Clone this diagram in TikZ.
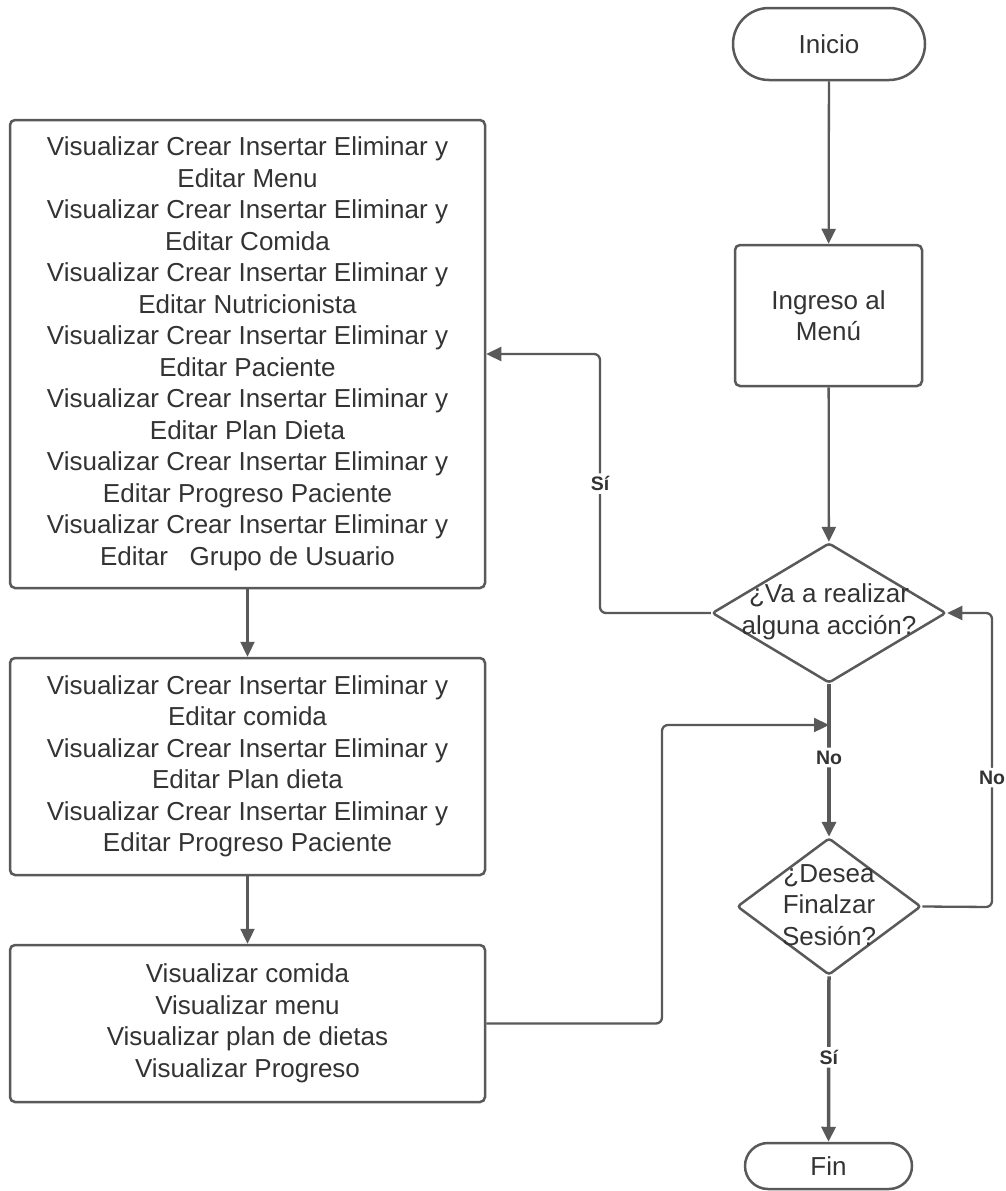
\documentclass[tikz,border=0pt]{standalone}
\usepackage{fontspec}
\setmainfont{Liberation Sans}
\usetikzlibrary{arrows.meta,shapes.geometric}
\definecolor{lc}{HTML}{595959}
\definecolor{tc}{HTML}{333333}
\newcommand{\fsz}{\fontsize{26}{31.5}\selectfont}
\newcommand{\lsz}{\fontsize{19.5}{22}\selectfont\bfseries}
\begin{document}
\begin{tikzpicture}[x=1pt,y=-1pt,
  base/.style={draw=lc, line width=2.5pt, text=tc, font=\fsz, align=center, inner sep=0pt},
  box/.style={base, rectangle, rounded corners=5pt},
  dia/.style={draw=lc, line width=2.5pt, shape=diamond, inner sep=0pt, rounded corners=3pt},
  dtext/.style={text=tc, font=\fsz, align=center, inner sep=0pt},
  conn/.style={draw=lc, line width=2.3pt, rounded corners=6pt, -{Triangle[length=15pt,width=14pt]}},
  thk/.style={conn, line width=3.5pt},
  lbl/.style={fill=white, text=tc, font=\lsz, inner sep=3pt}
]
\useasboundingbox[fill=white] (0,0) rectangle (1006,1191);

\node[box, rounded corners=36pt, minimum width=192pt, minimum height=72pt] (ini) at (829,44) {Inicio};
\node[box, minimum width=187pt, minimum height=141pt] (ing) at (828.5,315.5) {Ingreso al\\Menú};
\node[dia, minimum width=234pt, minimum height=140pt] (d1) at (829,613) {};
\node[dtext] (d1t) at (829,612) {¿Va a realizar\\alguna acción?};
\node[dia, minimum width=184pt, minimum height=137pt] (d2) at (829,906.5) {};
\node[dtext] (d2t) at (829,905) {¿Desea\\Finalzar\\Sesión?};
\node[box, rounded corners=23pt, minimum width=167pt, minimum height=46pt] (fin) at (828.5,1166) {Fin};

\node[box, minimum width=475pt, minimum height=468pt] (b1) at (247.5,354) {Visualizar Crear Insertar Eliminar y\\Editar Menu\\Visualizar Crear Insertar Eliminar y\\Editar Comida\\Visualizar Crear Insertar Eliminar y\\Editar Nutricionista\\Visualizar Crear Insertar Eliminar y\\Editar Paciente\\Visualizar Crear Insertar Eliminar y\\Editar Plan Dieta\\Visualizar Crear Insertar Eliminar y\\Editar Progreso Paciente\\Visualizar Crear Insertar Eliminar y\\Editar\ \ \ Grupo de Usuario};
\node[box, minimum width=475pt, minimum height=217pt] (b2) at (247.5,766.5) {Visualizar Crear Insertar Eliminar y\\Editar comida\\Visualizar Crear Insertar Eliminar y\\Editar Plan dieta\\Visualizar Crear Insertar Eliminar y\\Editar Progreso Paciente};
\node[box, minimum width=475pt, minimum height=157pt] (b3) at (247.5,1023.5) {Visualizar comida\\Visualizar menu\\Visualizar plan de dietas\\Visualizar Progreso};

\coordinate (j) at (829,725);

\draw[conn] (ini) -- (ing);
\draw[conn] (ing) -- (d1);
\draw[conn] (d1.west) -- (600,613) |- node[lbl, pos=0.25] {Sí} (b1.east);
\draw[thk] (d1.south) -- node[lbl, pos=0.48] {No} (d2.north);
\draw[conn] (d2.east) -- (992,907) |- node[lbl, pos=0.22] {No} (d1.east);
\draw[thk] (d2.south) -- node[lbl, pos=0.49] {Sí} (fin.north);
\draw[conn] (b1) -- (b2);
\draw[conn] (b2) -- (b3);
\draw[conn] (b3.east) -- (662,1023.5) |- (j);
\end{tikzpicture}
\end{document}
